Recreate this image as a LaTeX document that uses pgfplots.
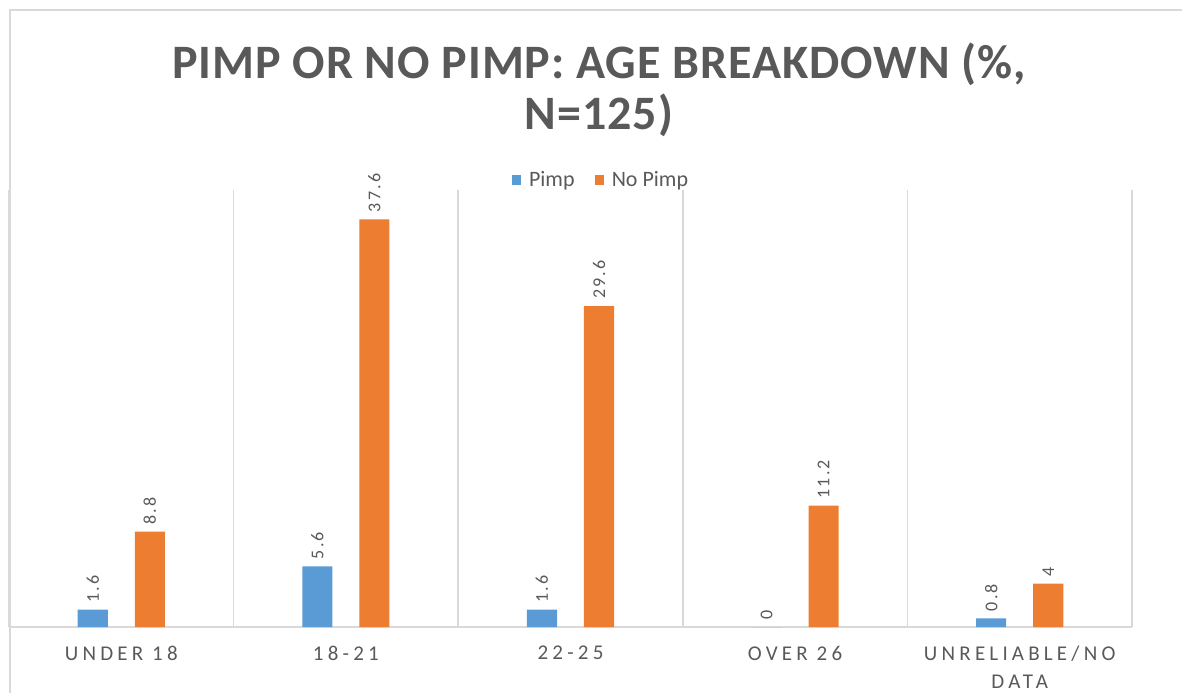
\documentclass[border=0pt]{standalone}
\usepackage{pgfplots}
\pgfplotsset{compat=1.18}
\usepackage{fontspec}
\setmainfont{Carlito}
\newfontfamily\titlefont[LetterSpace=2]{Carlito}
\newfontfamily\tickfont[LetterSpace=20]{Carlito}
\newfontfamily\valfont[LetterSpace=12]{Carlito}
\definecolor{pblue}{HTML}{5B9BD5}
\definecolor{porange}{HTML}{ED7D31}
\definecolor{txtgray}{HTML}{595959}
\definecolor{gridgray}{HTML}{D9D9D9}
\begin{document}
\begin{tikzpicture}[x=0.5pt,y=0.5pt]
\path[use as bounding box] (0,0) rectangle (1182,693);
\draw[gridgray, line width=0.8pt] (10,0) -- (10,683) -- (1182,683);
\node[font=\titlefont\bfseries\fontsize{24}{28}\selectfont, text=txtgray] at (599,629) {PIMP OR NO PIMP: AGE BREAKDOWN (\%,};
\node[font=\titlefont\bfseries\fontsize{24}{28}\selectfont, text=txtgray] at (599,578) {N=125)};
\begin{axis}[
  at={(4.5pt,33pt)}, anchor=south west, scale only axis,
  width=561.5pt, height=218.5pt,
  ymin=0, ymax=40.3, xmin=-0.5, xmax=4.5,
  hide y axis,
  axis x line*=bottom,
  x axis line style={gridgray, -, line width=0.8pt},
  xtick={0,1,2,3,4},
  xticklabels={UNDER 18, 18-21, 22-25, OVER 26, {UNRELIABLE/NO\\DATA}},
  major tick length=0pt,
  minor xtick={-0.5,0.5,1.5,2.5,3.5,4.5},
  xminorgrids, minor grid style={gridgray, line width=0.8pt}, minor tick length=0pt,
  xticklabel style={font=\tickfont\fontsize{10.5}{14}\selectfont, text=txtgray, align=center, yshift=-6pt},
  ybar, bar width=0.134,
  /pgf/number format/assume math mode=true,
  nodes near coords,
  nodes near coords style={rotate=90, anchor=west, font=\valfont\fontsize{9}{11}\selectfont, text=txtgray},
  legend style={at={(0.528,1.023)}, anchor=center, draw=none, fill=none, legend columns=2,
    font=\fontsize{11}{13}\selectfont, text=txtgray,
    /tikz/every odd column/.style={column sep=2pt},
    /tikz/every even column/.style={column sep=8pt}},
  legend image code/.code={\fill[#1] (0pt,-2.3pt) rectangle (4.6pt,2.3pt);},
]
\addplot[fill=pblue, draw=none, bar shift=-0.127] coordinates {(0,1.6)(1,5.6)(2,1.6)(3,0)(4,0.8)};
\addlegendentry{Pimp}
\addplot[fill=porange, draw=none, bar shift=0.127] coordinates {(0,8.8)(1,37.6)(2,29.6)(3,11.2)(4,4)};
\addlegendentry{No Pimp}
\end{axis}
\end{tikzpicture}
\end{document}
